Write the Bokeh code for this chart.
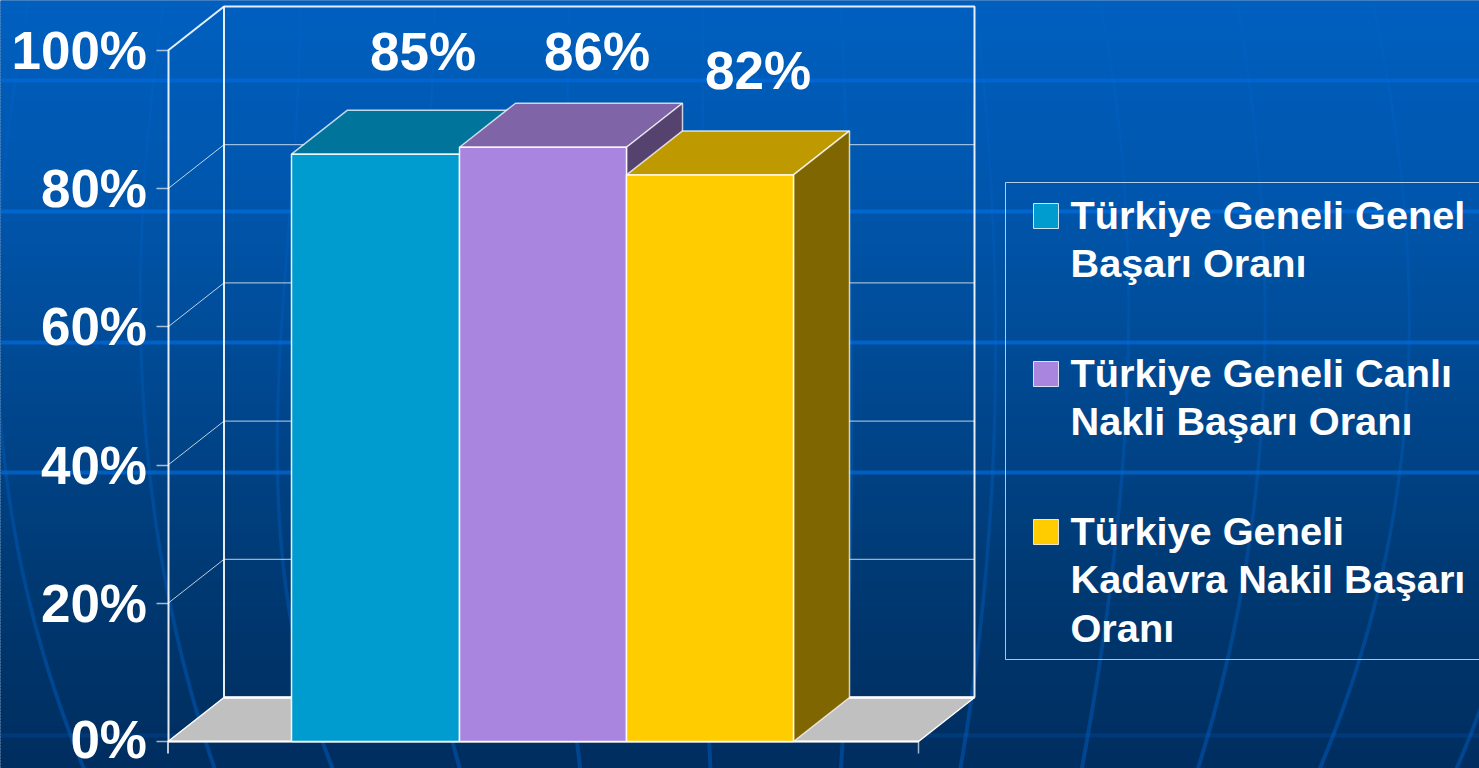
import numpy as np
from bokeh.plotting import figure
from bokeh.models import Range1d, LinearAxis, FixedTicker
from bokeh.core.properties import value
from bokeh.embed import file_html
from bokeh.resources import INLINE

# ---- data
series = ["Türkiye Geneli Genel Başarı Oranı", "Türkiye Geneli Canlı Nakli Başarı Oranı", "Türkiye Geneli Kadavra Nakil Başarı Oranı"]
values = [85, 86, 82]
value_labels = ["85%", "86%", "82%"]
y_ticks = [0, 20, 40, 60, 80, 100]
y_tick_labels = ["0%", "20%", "40%", "60%", "80%", "100%"]
legend_lines = [["Türkiye Geneli Genel", "Başarı Oranı"],
                ["Türkiye Geneli Canlı", "Nakli Başarı Oranı"],
                ["Türkiye Geneli", "Kadavra Nakil Başarı", "Oranı"]]

# ---- colours
front_colors = ["#009CCF", "#A985DF", "#FFCC00"]
top_colors = ["#00749B", "#7F64A7", "#BF9900"]
side_colors = ["#005E7C", "#55426F", "#806600"]
floor_color = "#C0C0C0"
grad_y = [0, 80, 200, 340, 470, 600, 700, 768]
grad_g = [96, 92, 86, 76, 66, 56, 50, 46]
grad_b = [192, 184, 172, 152, 132, 112, 102, 97]

# ---- decorative background (in page pixels)
band_y = [80, 211, 342, 472, 603, 735]
band_alpha = [0.45, 0.6, 0.6, 0.6, 0.04, 0.16]
mer_y = [0, 180, 400, 640, 768]
meridians = [[28, 5, -5, 42, 82], [163, 146, 140, 180, 213], [300, 290, 280, 292, 333],
             [435, 425, 420, 430, 460], [568, 565, 563, 567, 580], [702, 702, 702, 705, 710],
             [840, 848, 850, 848, 840], [975, 990, 995, 978, 960], [1100, 1122, 1128, 1101, 1082],
             [1237, 1258, 1264, 1230, 1198], [1372, 1400, 1408, 1363, 1320], [1510, 1535, 1545, 1500, 1457]]

# ---- layout
W, H = 1479, 768
PX_0, PX_100 = 741.0, 50.0
U = (PX_0 - PX_100) / 100.0           # page pixels per percent
DX, DY = 56.0, 44.0                   # depth of the 3-D box
AX_X = 167.5
FLOOR_R = 918.0
BAR_EDGES = [291.0, 459.0, 626.0, 793.0]
LABEL_X = [422.5, 596.5, 757.5]
LABEL_PX = [72, 72, 91]
LABEL_FS, LEG_FS = 53, 39.7
LEG_BOX = (1005, 182, 1490, 659)
SWATCH = (1033, 1058)
SWATCH_BASE = [228, 386, 544]
LEG_BASE = [229.5, 387.5, 545.5]
LEG_LH = 48.5
BASE_SHIFT = 0.39                     # glyph baseline correction, in em

p = figure(width=W, height=H, output_backend="svg", toolbar_location=None,
           x_range=Range1d(0, W), y_range=Range1d((PX_0 - H) / U, PX_0 / U),
           min_border=0, outline_line_color=None, x_axis_location=None, y_axis_location=None)
p.extra_y_ranges = {"px": Range1d(H, 0)}
p.xgrid.visible = False
p.ygrid.visible = False
p.background_fill_color = "#004488"
p.border_fill_alpha = 0

# background gradient
row_top = np.arange(0, H, 3, dtype=float)
g = np.interp(row_top + 1.5, grad_y, grad_g).astype(int)
b = np.interp(row_top + 1.5, grad_y, grad_b).astype(int)
p.quad(left=-2, right=W + 2, top=row_top - 0.5, bottom=row_top + 3.5,
       fill_color=[f"#00{a:02x}{c:02x}" for a, c in zip(g, b)], line_color=None, y_range_name="px")

# meridians and bands
yy = np.linspace(0, H, 40)
for m in meridians:
    xx = np.polyval(np.polyfit(mer_y, m, 3), yy)
    xs = [[xx[i], xx[i + 1]] for i in range(len(yy) - 1)]
    ys = [[yy[i], yy[i + 1]] for i in range(len(yy) - 1)]
    al = list(np.interp(yy[:-1], [0, 300, 768], [0.12, 0.18, 0.36]))
    wd = list(np.interp(yy[:-1], [0, 768], [2.5, 4]))
    p.multi_line(xs, ys, line_color="#0071E8", line_alpha=al, line_width=wd, y_range_name="px")
p.multi_line([[0, W]] * len(band_y), [[y, y] for y in band_y], line_color="#0072EA",
             line_alpha=band_alpha, line_width=4, y_range_name="px")

# floor
p.patch([AX_X, AX_X + DX, FLOOR_R + DX, FLOOR_R],
        [0, DY / U, DY / U, 0], fill_color=floor_color, line_color="white", line_width=1.5)

# walls
back_x = AX_X + DX
back_r = FLOOR_R + DX
wall_top = 100 + DY / U
p.line([back_x, back_x, back_r, back_r], [DY / U, wall_top, wall_top, DY / U],
       line_color="white", line_width=2, line_alpha=0.9)
p.line([AX_X, back_x], [100, wall_top], line_color="white", line_width=2, line_alpha=0.9)
p.line([back_x, back_r], [DY / U, DY / U], line_color="white", line_width=2.5)
for t in y_ticks[1:-1]:
    p.line([AX_X, back_x, back_r], [t, t + DY / U, t + DY / U], line_color="white",
           line_width=1, line_alpha=0.75)

# axis
ax = LinearAxis(fixed_location=AX_X, bounds=(0, 100), ticker=FixedTicker(ticks=y_ticks))
ax.major_label_overrides = {t: s for t, s in zip(y_ticks, y_tick_labels)}
ax.major_label_text_font = "Liberation Sans"
ax.major_label_text_font_style = "bold"
ax.major_label_text_font_size = f"{LABEL_FS}px"
ax.major_label_text_color = "white"
ax.major_label_standoff = 9
ax.major_tick_out = 12
ax.major_tick_in = 0
ax.major_tick_line_color = "white"
ax.major_tick_line_alpha = 0.65
ax.major_tick_line_width = 1.5
ax.minor_tick_line_color = None
ax.axis_line_color = "white"
ax.axis_line_width = 2
ax.axis_line_alpha = 0.9
p.add_layout(ax, "left")
p.line([AX_X, AX_X], [0, -12 / U], line_color="white", line_width=1.5)
p.line([AX_X, FLOOR_R], [0, 0], line_color="white", line_width=2, line_alpha=0.9)
p.line([FLOOR_R, FLOOR_R], [0, -12 / U], line_color="white", line_width=1.5, line_alpha=0.65)

# bars
for i, v in enumerate(values):
    l, r = BAR_EDGES[i], BAR_EDGES[i + 1]
    du = DY / U
    p.patch([l, l + DX, r + DX, r], [v, v + du, v + du, v], fill_color=top_colors[i],
            line_color="white", line_alpha=0.75, line_width=1.5)
    p.patch([r, r + DX, r + DX, r], [0, du, v + du, v], fill_color=side_colors[i],
            line_color="white", line_alpha=0.75, line_width=1.5)
    p.quad(left=l, right=r, bottom=0, top=v, fill_color=front_colors[i],
           line_color="white", line_width=1.5, line_alpha=0.9)

# value labels
p.text(LABEL_X, [y - BASE_SHIFT * LABEL_FS for y in LABEL_PX], text=value_labels,
       text_font=value("Liberation Sans"), text_font_style="bold", text_font_size=f"{LABEL_FS}px",
       text_color="white", text_align="center", text_baseline="alphabetic", y_range_name="px")

# legend
p.quad(left=LEG_BOX[0], right=LEG_BOX[2], top=LEG_BOX[1], bottom=LEG_BOX[3],
       fill_alpha=0, line_color="white", line_alpha=0.7, line_width=1, y_range_name="px")
for i, lines in enumerate(legend_lines):
    p.quad(left=SWATCH[0], right=SWATCH[1], top=SWATCH_BASE[i] - 25, bottom=SWATCH_BASE[i],
           fill_color=front_colors[i], line_color="white", line_alpha=0.8, line_width=1, y_range_name="px")
    p.text([1070] * len(lines), [LEG_BASE[i] - BASE_SHIFT * LEG_FS + j * LEG_LH for j in range(len(lines))],
           text=lines, text_font=value("Liberation Sans"), text_font_style="bold",
           text_font_size=f"{LEG_FS}px", text_color="white", text_align="left",
           text_baseline="alphabetic", y_range_name="px")

open("out.html", "w").write(file_html(p, INLINE))
